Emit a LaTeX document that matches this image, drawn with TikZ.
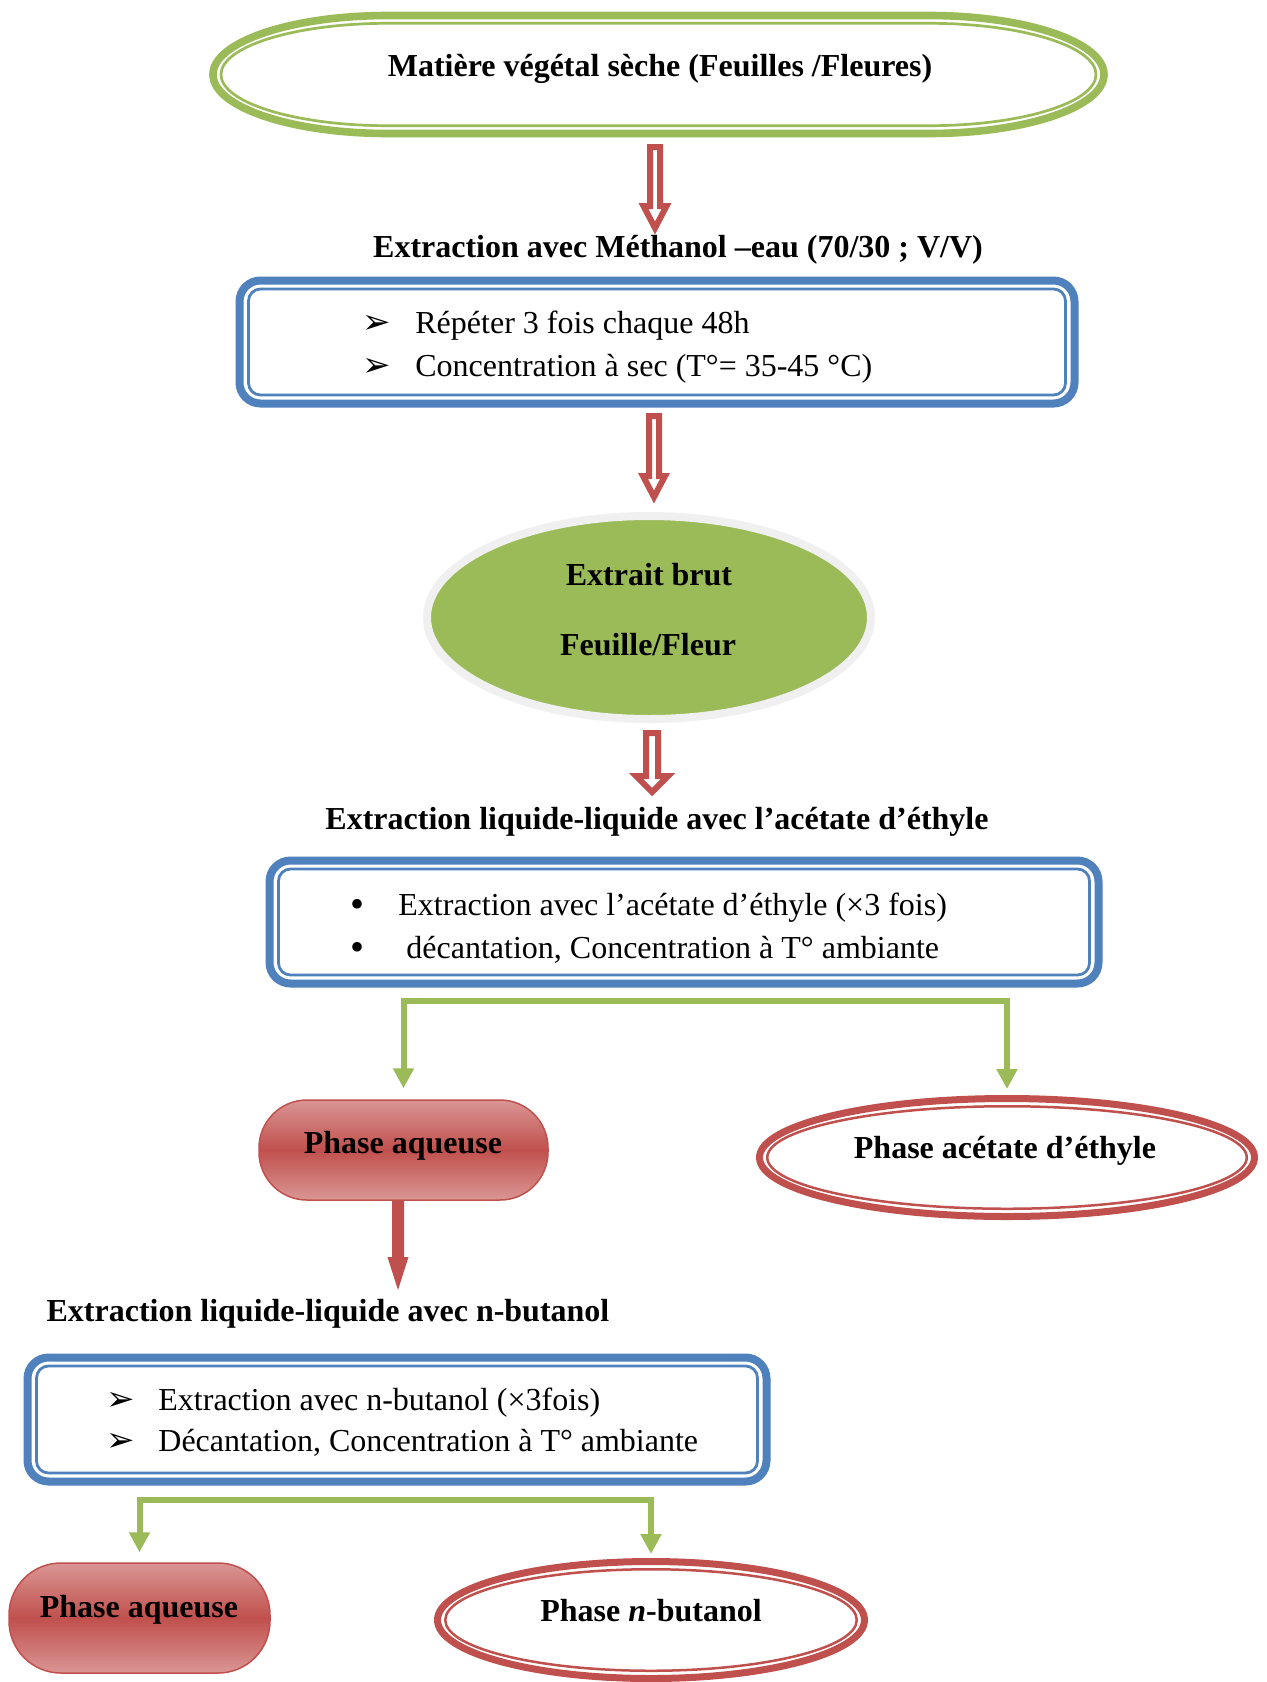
\documentclass[tikz,border=0pt]{standalone}
\usepackage{fontspec}
\setmainfont{Liberation Serif}
\newfontfamily\dejavu{DejaVu Sans}
\usetikzlibrary{arrows.meta,calc,shapes.geometric}
\definecolor{ogreen}{HTML}{9BBB59}
\definecolor{oblue}{HTML}{4F81BD}
\definecolor{ored}{HTML}{C0504D}
\definecolor{redlight}{HTML}{DA9694}
\definecolor{halo}{HTML}{F0F0F0}
% #1 style, #2 start coordinate, #3 tip coordinate, #4 shaft half width, #5 head half width, #6 head length
\newcommand\blockarrow[6]{%
  \path[#1] ($(#2)+(-#4,0)$) -- ($(#3)+(-#4,-#6)$) -- ($(#3)+(-#5,-#6)$) -- (#3)
    -- ($(#3)+(#5,-#6)$) -- ($(#3)+(#4,-#6)$) -- ($(#2)+(#4,0)$) -- cycle;}
\tikzset{
  txt/.style={inner sep=0pt, anchor=base, font=\fontsize{16}{19}\selectfont},
  btxt/.style={inner sep=0pt, anchor=base, font=\bfseries\fontsize{16}{19}\selectfont},
  arrbullet/.style={inner sep=0pt, anchor=base, font=\dejavu\fontsize{17}{19}\selectfont},
  dotbullet/.style={inner sep=0pt, anchor=base, font=\fontsize{20}{22}\selectfont},
  bluebox/.style={draw=oblue, line width=4pt, rounded corners=10.5pt, inner sep=0pt},
  bluein/.style={draw=oblue, line width=1.4pt, rounded corners=6pt},
  greenconn/.style={draw=ogreen, line width=3pt, line join=miter, -{Triangle[length=10pt,width=10pt]}},
  hollowarr/.style={draw=ored, fill=white, line width=3pt, line join=miter},
  solidarr/.style={fill=ored},
  redpill/.style={draw=ored, line width=0.75pt, top color=redlight, bottom color=redlight, middle color=ored, inner sep=0pt},
  redell/.style={ellipse, draw=ored, line width=3.5pt, inner sep=0pt},
  redellin/.style={draw=ored, line width=1.25pt},
  stadout/.style={draw=ogreen, line width=3.8pt},
  stadin/.style={draw=ogreen, line width=1.35pt},
}
\begin{document}
\begin{tikzpicture}[x=0.5pt,y=-0.5pt]
\useasboundingbox (0,0) rectangle (1266,1682);
\fill[white] (0,0) rectangle (1266,1682);

% top stadium
\draw[stadout] (388,15.5) -- (929,15.5) arc[start angle=-90, end angle=90, x radius=175, y radius=59]
  -- (388,133.5) arc[start angle=90, end angle=270, x radius=175, y radius=59] -- cycle;
\draw[stadin] (388,23.3) -- (929,23.3) arc[start angle=-90, end angle=90, x radius=167, y radius=51.2]
  -- (388,125.7) arc[start angle=90, end angle=270, x radius=167, y radius=51.2] -- cycle;
\node[btxt] (top) at (660,76.7) {Matière végétal sèche (Feuilles /Fleures)};

% arrow 1
\coordinate (a1s) at (655,147);
\coordinate (a1e) at (655,228);
\blockarrow{hollowarr}{a1s}{a1e}{5}{11.5}{22}

\node[btxt] (t1) at (678,257) {Extraction avec Méthanol –eau (70/30 ; V/V)};

% box 1
\node[bluebox, minimum width=417.5pt, minimum height=61.5pt] (b1) at (657,342) {};
\draw[bluein] ([shift={(13,12.5)}]b1.north west) rectangle ([shift={(-13,-12.5)}]b1.south east);
\node[arrbullet] (b1m1) at (377,333) {➢};
\node[txt, anchor=base west] (b1l1) at (415,333) {Répéter 3 fois chaque 48h};
\node[arrbullet] (b1m2) at (377,376) {➢};
\node[txt, anchor=base west] (b1l2) at (415,376) {Concentration à sec (T°= 35-45 °C)};

% arrow 2
\coordinate (a2s) at (654,416);
\coordinate (a2e) at (654,497);
\blockarrow{hollowarr}{a2s}{a2e}{5}{11}{21}

% green ellipse
\node[ellipse, draw=halo, line width=4pt, fill=ogreen, minimum width=222pt, minimum height=101.5pt, inner sep=0pt] (eb) at (649,617.5) {};
\node[btxt] (eb1) at (649,585) {Extrait brut};
\node[btxt] (eb2) at (648,655) {Feuille/Fleur};

% arrow 3
\coordinate (a3s) at (652,733);
\coordinate (a3e) at (652,792);
\blockarrow{hollowarr}{a3s}{a3e}{6}{16}{16}

\node[btxt] (t2) at (657,829) {Extraction liquide-liquide avec l'acétate d'éthyle};

% box 2
\node[bluebox, minimum width=414.5pt, minimum height=61.5pt] (b2) at (684,922) {};
\draw[bluein] ([shift={(13,12.5)}]b2.north west) rectangle ([shift={(-13,-12.5)}]b2.south east);
\node[dotbullet] (b2m1) at (357,917) {•};
\node[txt, anchor=base west] (b2l1) at (398,915) {Extraction avec l'acétate d'éthyle (×3 fois)};
\node[dotbullet] (b2m2) at (357,960) {•};
\node[txt, anchor=base west] (b2l2) at (406,958) {décantation, Concentration à T° ambiante};

% phases after ethyl acetate
\node[redpill, minimum width=144.5pt, minimum height=50pt, rounded corners=24pt] (aq1) at (403.5,1150) {};
\node[btxt] (aq1t) at (403,1153) {Phase aqueuse};
\node[redell, minimum width=247.5pt, minimum height=59pt] (ae) at (1007,1157.5) {};
\draw[redellin] (ae.center) ellipse [x radius=239.75, y radius=51.25];
\node[btxt] (aet) at (1005,1158) {Phase acétate d'éthyle};

\coordinate (s1) at (703,1001);
\draw[greenconn, shorten >=5.5pt] (s1) -| (aq1.north);
\draw[greenconn, shorten >=3pt] (s1) -| (ae.north);

% solid red arrow
\coordinate (a4e) at (398,1290);
\coordinate (a4s) at (aq1.south -| a4e);
\blockarrow{solidarr}{a4s}{a4e}{6}{10.5}{33}

\node[btxt] (t3) at (328,1321) {Extraction liquide-liquide avec n-butanol};

% box 3
\node[bluebox, minimum width=369.5pt, minimum height=62pt] (b3) at (397,1419.5) {};
\draw[bluein] ([shift={(13,12.5)}]b3.north west) rectangle ([shift={(-13,-12.5)}]b3.south east);
\node[arrbullet] (b3m1) at (121,1410) {➢};
\node[txt, anchor=base west] (b3l1) at (158,1410) {Extraction avec n-butanol (×3fois)};
\node[arrbullet] (b3m2) at (121,1451) {➢};
\node[txt, anchor=base west] (b3l2) at (158,1451) {Décantation, Concentration à T° ambiante};

% final phases
\node[redpill, minimum width=130.5pt, minimum height=55pt, rounded corners=26pt] (aq2) at (139.5,1618) {};
\node[btxt] (aq2t) at (139,1617) {Phase aqueuse};
\node[redell, minimum width=213.5pt, minimum height=58.5pt] (nb) at (651,1620) {};
\draw[redellin] (nb.center) ellipse [x radius=205.75, y radius=50.75];
\node[btxt] (nbt) at (651,1621) {Phase \textit{n}-butanol};

\coordinate (s2) at (395,1500);
\draw[greenconn, shorten >=5pt] (s2) -| (aq2.north);
\draw[greenconn, shorten >=2pt] (s2) -| (nb.north);
\end{tikzpicture}
\end{document}
